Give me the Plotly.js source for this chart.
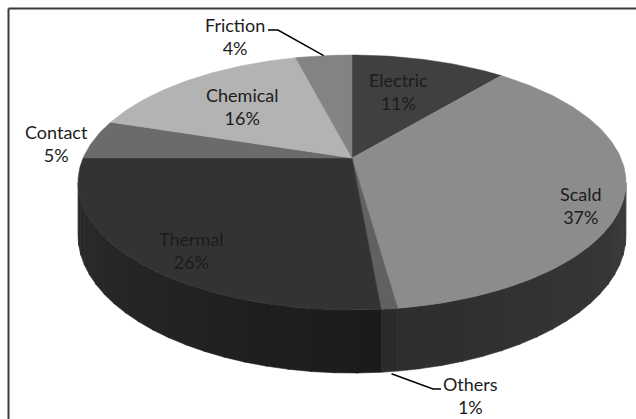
<!DOCTYPE html>
<html>
<head>
<meta charset="utf-8">
<script src="https://cdn.plot.ly/plotly-3.0.1.min.js"></script>
<style>html,body{margin:0;padding:0;background:#fff;}#chart{width:636px;height:419px;}</style>
</head>
<body>
<div id="chart"></div>
<script>
// ---- data ----
const categories = ['Electric', 'Scald', 'Others', 'Thermal', 'Contact', 'Chemical', 'Friction'];
const values = [11, 36.8, 0.8, 26.4, 5, 16, 4];

// ---- styles ----
const topColors  = ['#404040', '#8c8c8c', '#616161', '#333333', '#6b6b6b', '#b3b3b3', '#838383'];
// side shading: colour at start and end of each slice's visible side (grey levels)
const sideStart = [38, 58, 44, 27, 48, 80, 58];
const sideEnd   = [38, 46, 42, 44, 48, 80, 58];
const labelXY = [[398, 91], [581, 205], [470, 395], [191, 250], [56, 143], [242, 106], [235, 36]];

// ---- 3D pie geometry (perspective projection of a disk) ----
const CX = 352, CY = 158, A = 268.9, B = 122.8, K = 0.1922, T = 50.9;
function proj(r, th) {
  const u = r * Math.sin(th), v = -r * Math.cos(th);
  const d = 1 - K * v;
  return [CX + A * u / d, CY + B * v / d];
}
function thick(th) { const v = -Math.cos(th); return T / (1 - K * v); }
function grey(g) { g = Math.round(g); return 'rgb(' + g + ',' + g + ',' + g + ')'; }

const total = values.reduce((a, b) => a + b, 0);
const angles = [];
let acc = 0;
values.forEach(v => { const a0 = acc / total * 2 * Math.PI; acc += v; angles.push([a0, acc / total * 2 * Math.PI]); });

function arcPts(a, b, stepDeg) {
  const n = Math.max(2, Math.ceil((b - a) / (Math.PI / 180 * (stepDeg || 1))));
  const pts = [];
  for (let i = 0; i <= n; i++) pts.push(a + (b - a) * i / n);
  return pts;
}

const traces = [];
// sides (front visible part), shaded in bands
const s1 = Math.acos(-K), s2 = 2 * Math.PI - Math.acos(-K);
angles.forEach(([a0, a1], i) => {
  const a = Math.max(a0, s1), b = Math.min(a1, s2);
  if (b <= a) return;
  const nb = Math.max(1, Math.ceil((b - a) / (Math.PI / 180 * 4)));
  for (let j = 0; j < nb; j++) {
    const ba = a + (b - a) * j / nb, bb = a + (b - a) * (j + 1) / nb + (j < nb - 1 ? 0.004 : 0);
    const ths = arcPts(ba, bb, 0.5);
    const xs = [], ys = [];
    ths.forEach(t => { const p = proj(1, t); xs.push(p[0]); ys.push(p[1]); });
    ths.slice().reverse().forEach(t => { const p = proj(1, t); xs.push(p[0]); ys.push(p[1] + thick(t)); });
    xs.push(xs[0]); ys.push(ys[0]);
    const f = nb === 1 ? 0.5 : j / (nb - 1);
    const col = grey(sideStart[i] + (sideEnd[i] - sideStart[i]) * f);
    traces.push({type: 'scatter', mode: 'lines', x: xs, y: ys, fill: 'toself', fillcolor: col,
      line: {width: 0.6, color: col}, hoverinfo: 'skip', showlegend: false});
  }
});
// top faces
angles.forEach(([a0, a1], i) => {
  const xs = [CX], ys = [CY];
  arcPts(a0, a1).forEach(t => { const p = proj(1, t); xs.push(p[0]); ys.push(p[1]); });
  xs.push(CX); ys.push(CY);
  traces.push({type: 'scatter', mode: 'lines', x: xs, y: ys, fill: 'toself', fillcolor: topColors[i],
    line: {width: 0.5, color: topColors[i]}, hoverinfo: 'skip', showlegend: false, name: categories[i]});
});

// leader lines for outside labels
function mid(i) { return (angles[i][0] + angles[i][1]) / 2; }
{
  const i = categories.indexOf('Friction');
  const p = proj(1, mid(i));
  traces.push({type: 'scatter', mode: 'lines', x: [labelXY[i][0] + 33, labelXY[i][0] + 43, p[0]],
    y: [labelXY[i][1] - 6, labelXY[i][1] - 6, p[1]], line: {color: '#000', width: 1.5}, hoverinfo: 'skip', showlegend: false});
}
{
  const i = categories.indexOf('Others');
  const t = mid(i), p = proj(1, t);
  traces.push({type: 'scatter', mode: 'lines', x: [p[0] + 2, labelXY[i][0] - 37, labelXY[i][0] - 29],
    y: [p[1] + thick(t) + 2, labelXY[i][1] - 6, labelXY[i][1] - 6], line: {color: '#000', width: 1.5}, hoverinfo: 'skip', showlegend: false});
}

const annotations = categories.map((c, i) => ({
  x: labelXY[i][0], y: labelXY[i][1], xref: 'x', yref: 'y', showarrow: false,
  text: c + '<br>' + Math.round(values[i] / total * 100) + '%', align: 'center',
  font: {family: 'Lato, "Open Sans", sans-serif', size: 18, color: '#1c1c1c'}
}));

const layout = {
  width: 636, height: 419, margin: {l: 0, r: 0, t: 0, b: 0},
  paper_bgcolor: '#ffffff', plot_bgcolor: '#ffffff', showlegend: false,
  xaxis: {range: [0, 636], visible: false, fixedrange: true},
  yaxis: {range: [419, 0], visible: false, fixedrange: true},
  annotations: annotations,
  shapes: [
    {type: 'line', xref: 'x', yref: 'y', x0: 8.5, y0: 8.5, x1: 636, y1: 8.5, line: {color: '#3a3a3a', width: 2}},
    {type: 'line', xref: 'x', yref: 'y', x0: 8.5, y0: 8.5, x1: 8.5, y1: 419, line: {color: '#3a3a3a', width: 2}}
  ]
};
Plotly.newPlot('chart', traces, layout, {displayModeBar: false, staticPlot: true});
</script>
</body>
</html>
